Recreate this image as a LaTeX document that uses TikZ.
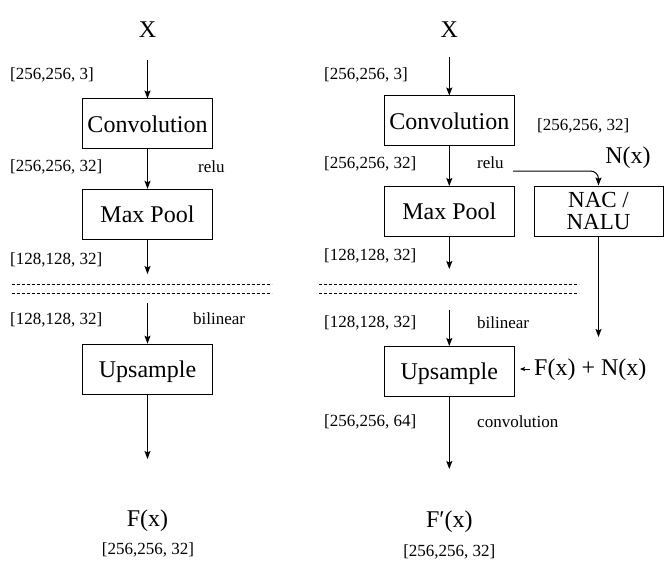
\documentclass[tikz,border=0pt]{standalone}
\usepackage{fontspec}
\setmainfont{Liberation Serif}
\newfontfamily\tms{Liberation Serif}
\usetikzlibrary{arrows.meta}
\begin{document}
\begin{tikzpicture}[x=1pt,y=-1pt,
  box/.style={draw,line width=1pt,minimum width=130pt,minimum height=50pt,inner sep=0pt,
    font=\tms\fontsize{24}{21.5}\selectfont,text height=16.4pt,text depth=0pt},
  nacbox/.style={draw,line width=1pt,minimum width=129pt,minimum height=50pt,inner sep=0pt,
    align=center,font=\tms\fontsize{23}{22.5}\selectfont},
  big/.style={inner sep=0pt,font=\tms\fontsize{24}{24}\selectfont},
  lab/.style={inner sep=0pt,anchor=west,font=\tms\fontsize{17}{20}\selectfont},
  clab/.style={inner sep=0pt,font=\tms\fontsize{17}{20}\selectfont},
  arr/.style={line width=1pt,-{Stealth[length=8pt,width=6pt,inset=1.5pt]}},
  smallarr/.style={line width=0.8pt,-{Stealth[length=5pt,width=4pt,inset=1pt]}},
  sepline/.style={line width=0.8pt,dash pattern=on 3pt off 2pt}
]
\useasboundingbox (0,0) rectangle (665,578);

% ---------- left network ----------
\node[big,anchor=base] (lx) at (147.5,38) {X};
\coordinate (lxa) at (147.5,60);
\node[box] (lconv) at (147.5,124) {Convolution};
\node[box] (lpool) at (147.5,214.3) {Max Pool};
\coordinate (lpoolend) at (147.5,274);
\coordinate (lupstart) at (147.5,303);
\node[box] (lup) at (147.5,369.2) {Upsample};
\coordinate (lupend) at (147.5,459);
\node[big,anchor=base] (lfx) at (147.5,526) {F(x)};
\node[clab] (lout) at (148,550) {[256,256, 32]};

\node[lab] (l1) at (10,75) {[256,256, 3]};
\node[lab] (l2) at (10,167) {[256,256, 32]};
\node[lab] (lrelu) at (198,167) {relu};
\node[lab] (l3) at (10,260) {[128,128, 32]};
\node[lab] (l4) at (10,320) {[128,128, 32]};
\node[lab] (lbil) at (193,319) {bilinear};

\draw[arr] (lxa) -- (lconv.north);
\draw[arr] (lconv.south) -- (lpool.north);
\draw[arr] (lpool.south) -- (lpoolend);
\draw[arr] (lupstart) -- (lup.north);
\draw[arr] (lup.south) -- (lupend);

\draw[sepline] (11.7,284) -- (271.7,284);
\draw[sepline] (11.7,293.3) -- (271.7,293.3);

% ---------- right network ----------
\node[big,anchor=base] (rx) at (449.3,38) {X};
\coordinate (rxa) at (449.3,57);
\node[box] (rconv) at (449.3,121) {Convolution};
\node[box] (rpool) at (449.3,211.5) {Max Pool};
\coordinate (rpoolend) at (449.3,269);
\coordinate (rupstart) at (449.3,310);
\node[box] (rup) at (449.3,371.5) {Upsample};
\coordinate (rupend) at (449.3,469);
\node[big,anchor=base] (rfx) at (449.3,527) {F\char"2032(x)};
\node[clab] (rout) at (449.3,552) {[256,256, 32]};

\node[nacbox] (nac) at (598.5,211) {NAC /\\NALU};
\node[big] (nx) at (628,158) {N(x)};
\node[lab] (r0) at (537,126) {[256,256, 32]};
\node[lab] (r1) at (324,75) {[256,256, 3]};
\node[lab] (r2) at (324,164) {[256,256, 32]};
\node[lab] (rrelu) at (477,163) {relu};
\node[lab] (r3) at (324,256) {[128,128, 32]};
\node[lab] (r4) at (324,323) {[128,128, 32]};
\node[lab] (rbil) at (477,323) {bilinear};
\node[lab] (r5) at (324,422) {[256,256, 64]};
\node[lab] (rconvl) at (477,422) {convolution};
\node[big,anchor=west] (fxn) at (534,370) {F(x) + N(x)};
\coordinate (fxnend) at (520,369);
\coordinate (relustart) at (513,171);
\coordinate (nacend) at (598.5,337);

\draw[arr] (rxa) -- (rconv.north);
\draw[arr] (rconv.south) -- (rpool.north);
\draw[arr] (rpool.south) -- (rpoolend);
\draw[arr] (rupstart) -- (rup.north);
\draw[arr] (rup.south) -- (rupend);
\draw[arr,rounded corners=8pt] (relustart) -| (nac.north);
\draw[arr] (nac.south) -- (nacend);
\draw[smallarr,shorten <=4pt] (fxn.west |- fxnend) -- (fxnend);

\draw[sepline] (319.3,284) -- (579.3,284);
\draw[sepline] (319.3,293) -- (579.3,293);
\end{tikzpicture}
\end{document}
